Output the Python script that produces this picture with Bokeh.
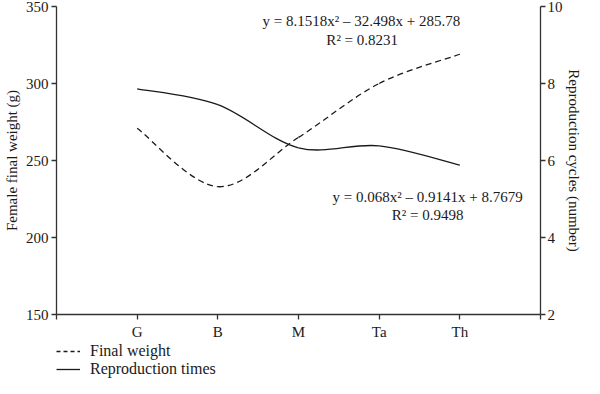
from bokeh.plotting import figure
from bokeh.layouts import column
from bokeh.models import (Range1d, LinearAxis, FixedTicker, Label, Legend, LegendItem,
                          ColumnDataSource)
from bokeh.embed import file_html
from bokeh.resources import INLINE

# ---- data ----
categories = ["G", "B", "M", "Ta", "Th"]
final_weight = [271, 233, 265, 300, 319]          # left axis (g)
reproduction_times = [7.86, 7.45, 6.33, 6.38, 5.88]  # right axis (number)
left_ticks = [150, 200, 250, 300, 350]
right_ticks = [2, 4, 6, 8, 10]
eq_weight = ["y = 8.1518x² – 32.498x + 285.78", "R² = 0.8231"]
eq_repro = ["y = 0.068x² – 0.9141x + 8.7679", "R² = 0.9498"]
legend_labels = ["Final weight", "Reproduction times"]

FONT = "Liberation Serif"
INK = "#1a1a1a"
xpos = list(range(1, len(categories) + 1))


def smooth_source(xs, ys):
    """Cubic Bezier control points (Catmull-Rom style) through the data points."""
    n = len(xs)
    d = dict(x0=[], y0=[], x1=[], y1=[], cx0=[], cy0=[], cx1=[], cy1=[])
    for i in range(n - 1):
        pm, pp = max(i - 1, 0), min(i + 2, n - 1)
        d["x0"].append(xs[i]); d["y0"].append(ys[i])
        d["x1"].append(xs[i + 1]); d["y1"].append(ys[i + 1])
        d["cx0"].append(xs[i] + (xs[i + 1] - xs[pm]) / 6)
        d["cy0"].append(ys[i] + (ys[i + 1] - ys[pm]) / 6)
        d["cx1"].append(xs[i + 1] - (xs[pp] - xs[i]) / 6)
        d["cy1"].append(ys[i + 1] - (ys[pp] - ys[i]) / 6)
    return ColumnDataSource(d)


p = figure(width=584, height=342, x_range=Range1d(0, len(categories) + 1),
           y_range=Range1d(150, 350), output_backend="svg", toolbar_location=None,
           min_border_left=0, min_border_right=0, min_border_top=6, min_border_bottom=20)
p.extra_y_ranges = {"r": Range1d(2, 10)}
p.grid.visible = False
p.outline_line_color = None
p.background_fill_color = "white"
p.border_fill_color = "white"

p.add_layout(LinearAxis(y_range_name="r", axis_label="Reproduction cycles (number)"), "right")

p.xaxis.ticker = FixedTicker(ticks=[0] + xpos + [len(categories) + 1])
p.xaxis.major_label_overrides = {0: "", len(categories) + 1: "",
                                 **{x: c for x, c in zip(xpos, categories)}}
p.yaxis[0].ticker = FixedTicker(ticks=left_ticks)
p.yaxis[0].axis_label = "Female final weight (g)"
p.yaxis[1].ticker = FixedTicker(ticks=right_ticks)

for ax in p.axis:
    ax.axis_line_color = "#333333"
    ax.axis_line_width = 1.3
    ax.major_tick_line_color = "#333333"
    ax.major_tick_line_width = 1.3
    ax.major_tick_out = 5
    ax.major_tick_in = 0
    ax.minor_tick_line_color = None
    ax.major_label_text_font = FONT
    ax.major_label_text_font_size = "15px"
    ax.major_label_text_color = INK
    ax.major_label_standoff = 3
    ax.axis_label_text_font = FONT
    ax.axis_label_text_font_size = "15px"
    ax.axis_label_text_font_style = "normal"
    ax.axis_label_text_color = INK
    ax.axis_label_standoff = 3
p.xaxis.major_label_standoff = 4
p.yaxis[1].major_label_standoff = 2
p.yaxis[1].axis_label_standoff = 0

# curves
p.bezier(x0="x0", y0="y0", x1="x1", y1="y1", cx0="cx0", cy0="cy0", cx1="cx1", cy1="cy1",
         source=smooth_source(xpos, final_weight), line_color=INK, line_width=1.3,
         line_dash="6 4")
p.bezier(x0="x0", y0="y0", x1="x1", y1="y1", cx0="cx0", cy0="cy0", cx1="cx1", cy1="cy1",
         source=smooth_source(xpos, reproduction_times), line_color=INK, line_width=1.3,
         y_range_name="r")

# equations
for txt, xx, yy in [(eq_weight[0], 3.78, 340.5), (eq_weight[1], 3.79, 328.5),
                    (eq_repro[0], 4.6, 226.5), (eq_repro[1], 4.6, 214.5)]:
    p.add_layout(Label(x=xx, y=yy, text=txt, text_font=FONT, text_font_size="15px",
                       text_color=INK, text_align="center", text_baseline="middle"))

# legend strip below the chart (proxy lines lie outside its ranges)
lg = figure(width=584, height=36, x_range=Range1d(-1, 0), y_range=Range1d(-1, 0),
            output_backend="svg", toolbar_location=None,
            x_axis_location=None, y_axis_location=None,
            min_border_left=0, min_border_right=0, min_border_top=0, min_border_bottom=0)
lg.grid.visible = False
lg.outline_line_color = None
leg_dash = lg.line(x=xpos, y=final_weight, line_color=INK, line_width=1.3, line_dash="4 3")
leg_solid = lg.line(x=xpos, y=reproduction_times, line_color=INK, line_width=1.3)
legend = Legend(items=[LegendItem(label=legend_labels[0], renderers=[leg_dash]),
                       LegendItem(label=legend_labels[1], renderers=[leg_solid])],
                location="bottom_left", orientation="vertical", border_line_color=None,
                background_fill_alpha=0, padding=0, margin=0, spacing=0,
                glyph_width=24, glyph_height=14, label_standoff=10,
                label_text_font=FONT, label_text_font_size="16px",
                label_text_color=INK, label_height=14)
lg.add_layout(legend)

open("out.html", "w").write(file_html(column(p, lg, spacing=0), INLINE))
